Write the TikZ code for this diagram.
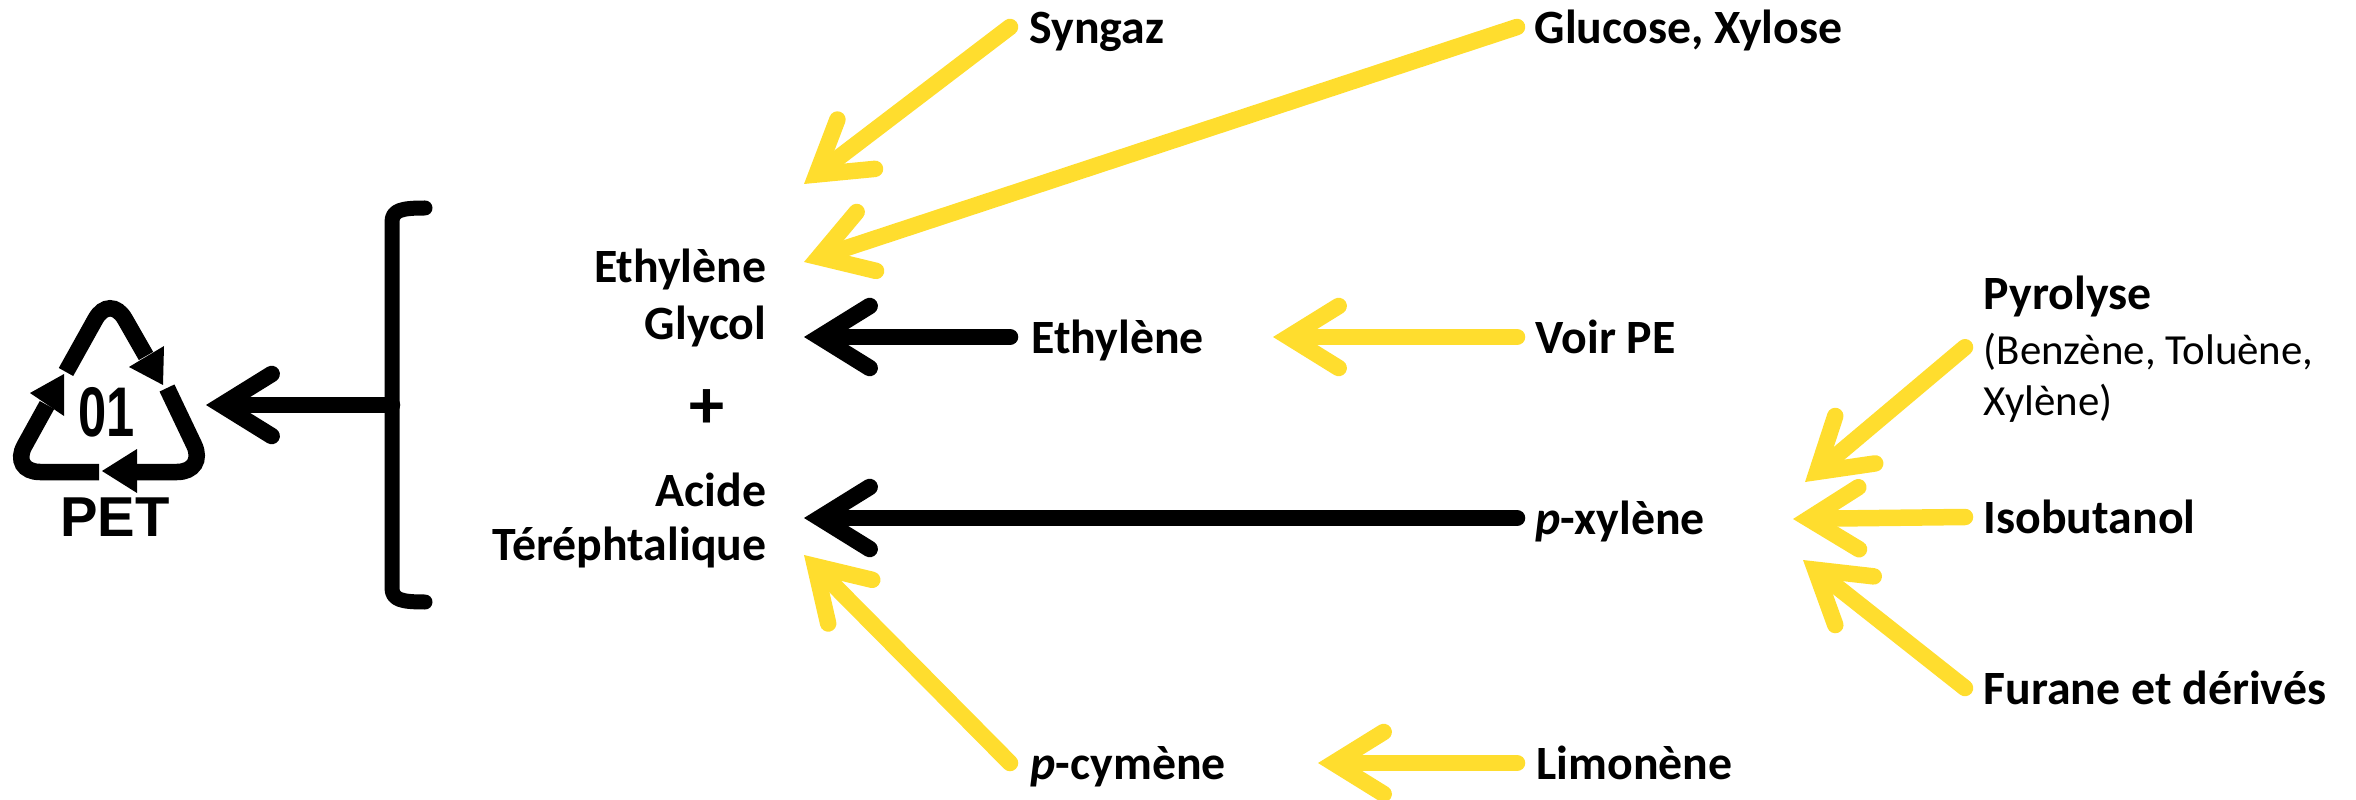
\documentclass[tikz,border=0pt]{standalone}
\usepackage{fontspec}
\usepackage{graphicx}
\usepackage{tikz}
\setmainfont{Carlito}
\newfontfamily\logofont{Liberation Sans}
\usetikzlibrary{calc, arrows.meta, positioning}
\definecolor{biojaune}{RGB}{255,221,46}
\tikzset{
    lbl/.style={anchor=west, inner sep=0pt, text height=0.33cm, text depth=0pt, font=\fontsize{13.6}{15}\selectfont\bfseries},
    lblr/.style={lbl, anchor=east},
    fleche/.style={line width=0.165cm, line cap=round, -{Straight Barb[length=0.5cm, width=0.62cm, line cap=round, line join=miter]}},
    noire/.style={fleche, black},
    jaune/.style={fleche, biojaune},
    recyc/.style={line width=0.165cm, rounded corners=0.3cm}
}

\begin{document}
\begin{tikzpicture}
    \useasboundingbox (0, 0) rectangle (23.56, -8);

    % logo
    \draw[recyc] (0.66, -3.72) -- (1.10, -2.93) -- (1.46, -3.56);
    \draw[recyc] (1.67, -3.88) -- (2.07, -4.72) -- (1.37, -4.72);
    \draw[recyc] (0.99, -4.72) -- (0.10, -4.72) -- (0.47, -4.05);
    \fill (1.64, -3.46) -- (1.29, -3.67) -- (1.63, -3.85) -- cycle;
    \fill (1.37, -4.49) -- (1.02, -4.71) -- (1.37, -4.93) -- cycle;
    \fill (0.30, -3.93) -- (0.64, -3.74) -- (0.64, -4.16) -- cycle;
    \node[inner sep=0pt, font=\logofont\bfseries\fontsize{20}{22}\selectfont] (num) at (1.07, -4.12) {\scalebox{0.72}[1]{01}};
    \node[inner sep=0pt, font=\logofont\bfseries\fontsize{16}{18}\selectfont] (pet) at (1.15, -5.17) {PET};

    % crochet
    \coordinate (milieu) at (3.92, -4.05);
    \coordinate (pointe) at (2.06, -4.05);
    \draw[line width=0.15cm, line cap=round, line join=round] (4.25, -2.08) .. controls (4.02, -2.08) and (3.92, -2.10) .. (3.92, -2.22)
        -- (3.92, -5.88) .. controls (3.92, -6.00) and (4.02, -6.02) .. (4.25, -6.02);
    \draw[noire] (milieu) -- (pointe);

    % gauche
    \node[lblr] (eth) at (7.67, -2.66) {Ethylène};
    \node[lblr] (gly) at (7.67, -3.23) {Glycol};
    \node[font=\fontsize{20}{22}\selectfont\bfseries, inner sep=0pt] (plus) at (7.07, -4.09) {+};
    \node[lblr] (aci) at (7.67, -4.895) {Acide};
    \node[lblr] (ter) at (7.67, -5.44) {Téréphtalique};
    \coordinate (ciblea) at (8.04, -1.84);
    \coordinate (cibleb) at (8.04, -2.62);
    \coordinate (ciblec) at (8.04, -3.37);
    \coordinate (cibled) at (8.04, -5.18);
    \coordinate (ciblee) at (8.04, -5.55);

    % milieu
    \node[lbl] (syn) at (10.29, -0.27) {Syngaz};
    \node[lbl] (ethy) at (10.31, -3.37) {Ethylène};
    \node[lbl] (cym) at (10.30, -7.63) {\textit{p}-cymène};

    % droite
    \node[lbl] (glu) at (15.34, -0.27) {Glucose, Xylose};
    \node[lbl] (voir) at (15.35, -3.37) {Voir PE};
    \node[lbl] (xyl) at (15.35, -5.18) {\textit{p}-xylène};
    \node[lbl] (lim) at (15.36, -7.63) {Limonène};
    \coordinate (ciblef) at (12.73, -3.37);
    \coordinate (cibleg) at (13.18, -7.63);

    % sources du xylene
    \node[anchor=north west, inner sep=0pt, align=left, font=\fontsize{12.2}{14.6}\selectfont] (pyr) at (19.83, -2.755)
        {{\fontsize{13.6}{15}\selectfont\bfseries Pyrolyse}\\[0.03cm](Benzène, Toluène,\\Xylène)};
    \node[lbl] (iso) at (19.83, -5.17) {Isobutanol};
    \node[lbl] (fur) at (19.83, -6.88) {Furane et dérivés};
    \coordinate (cibleh) at (18.05, -4.82);
    \coordinate (ciblei) at (17.93, -5.19);
    \coordinate (ciblej) at (18.03, -5.60);

    \draw[jaune] ([xshift=-0.19cm]syn.west) -- (ciblea);
    \draw[jaune] ([xshift=-0.17cm]glu.west) -- (cibleb);
    \draw[noire] ([xshift=-0.21cm]ethy.west) -- (ciblec);
    \draw[jaune] ([xshift=-0.18cm]voir.west) -- (ciblef);
    \draw[noire] ([xshift=-0.18cm]xyl.west) -- (cibled);
    \draw[jaune] ([xshift=-0.20cm]cym.west) -- (ciblee);
    \draw[jaune] ([xshift=-0.19cm]lim.west) -- (cibleg);
    \draw[jaune] ([xshift=-0.18cm, yshift=0.02cm]pyr.west) -- (cibleh);
    \draw[jaune] ([xshift=-0.18cm]iso.west) -- (ciblei);
    \draw[jaune] ([xshift=-0.18cm]fur.west) -- (ciblej);
\end{tikzpicture}
\end{document}
